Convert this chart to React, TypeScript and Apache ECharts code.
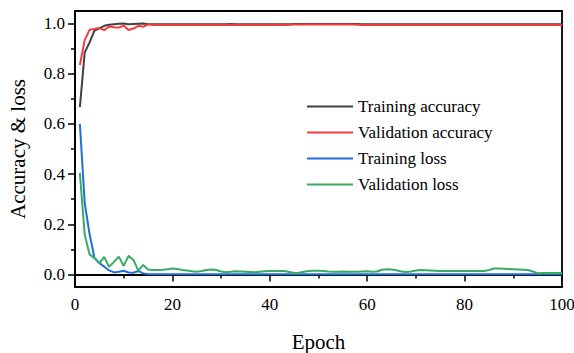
import React, { useEffect, useRef } from "react";
import * as echarts from "echarts";

const epochs: number[] = Array.from({ length: 100 }, (_, i) => i + 1);

const trainAcc: number[] = [
  0.667, 0.885, 0.925, 0.972, 0.981, 0.991, 0.995, 0.997, 0.999, 1.0,
  0.997, 0.998, 0.999, 1.0, 0.997, 0.997, 0.997, 0.997, 0.997, 0.997,
  0.997, 0.997, 0.997, 0.997, 0.997, 0.997, 0.997, 0.997, 0.997, 0.997,
  0.997, 0.998, 0.997, 0.997, 0.997, 0.997, 0.997, 0.997, 0.997, 0.997,
  0.997, 0.997, 0.997, 0.997, 0.998, 0.998, 0.998, 0.998, 0.998, 0.998,
  0.998, 0.998, 0.998, 0.998, 0.998, 0.998, 0.998, 0.998, 0.997, 0.997,
  0.997, 0.997, 0.997, 0.997, 0.997, 0.997, 0.997, 0.997, 0.997, 0.997,
  0.997, 0.997, 0.997, 0.997, 0.997, 0.997, 0.997, 0.997, 0.997, 0.997,
  0.997, 0.997, 0.997, 0.997, 0.997, 0.997, 0.997, 0.997, 0.997, 0.997,
  0.997, 0.997, 0.997, 0.997, 0.997, 0.997, 0.997, 0.997, 0.997, 0.997,
];

const valAcc: number[] = [
  0.835, 0.935, 0.975, 0.978, 0.982, 0.974, 0.988, 0.985, 0.984, 0.992,
  0.974, 0.98, 0.991, 0.987, 0.997, 0.994, 0.994, 0.994, 0.994, 0.994,
  0.994, 0.994, 0.994, 0.994, 0.994, 0.994, 0.994, 0.994, 0.994, 0.994,
  0.994, 0.995, 0.994, 0.994, 0.994, 0.994, 0.994, 0.994, 0.994, 0.994,
  0.994, 0.994, 0.994, 0.995, 0.996, 0.996, 0.996, 0.996, 0.996, 0.996,
  0.996, 0.996, 0.996, 0.996, 0.996, 0.996, 0.996, 0.995, 0.994, 0.994,
  0.994, 0.994, 0.994, 0.994, 0.994, 0.994, 0.994, 0.994, 0.994, 0.994,
  0.994, 0.994, 0.994, 0.994, 0.994, 0.994, 0.994, 0.994, 0.994, 0.994,
  0.994, 0.994, 0.994, 0.994, 0.994, 0.994, 0.994, 0.994, 0.994, 0.994,
  0.994, 0.994, 0.994, 0.994, 0.994, 0.994, 0.994, 0.994, 0.994, 0.994,
];

const trainLoss: number[] = [
  0.6, 0.284, 0.16, 0.066, 0.045, 0.031, 0.016, 0.008, 0.011, 0.015,
  0.008, 0.007, 0.014, 0.004, 0.002, 0.001, 0.001, 0.001, 0.001, 0.001,
  0.001, 0.001, 0.001, 0.001, 0.001, 0.001, 0.001, 0.001, 0.001, 0.001,
  0.001, 0.001, 0.001, 0.001, 0.001, 0.001, 0.001, 0.001, 0.001, 0.001,
  0.001, 0.001, 0.001, 0.001, 0.001, 0.001, 0.001, 0.001, 0.001, 0.001,
  0.001, 0.001, 0.001, 0.001, 0.001, 0.001, 0.001, 0.001, 0.001, 0.001,
  0.001, 0.001, 0.001, 0.001, 0.001, 0.001, 0.001, 0.001, 0.001, 0.001,
  0.001, 0.001, 0.001, 0.001, 0.001, 0.001, 0.001, 0.001, 0.001, 0.001,
  0.001, 0.001, 0.001, 0.001, 0.001, 0.001, 0.001, 0.001, 0.001, 0.001,
  0.001, 0.001, 0.001, 0.001, 0.001, 0.001, 0.001, 0.001, 0.001, 0.001,
];

const valLoss: number[] = [
  0.405, 0.157, 0.08, 0.065, 0.045, 0.07, 0.03, 0.05, 0.071, 0.034,
  0.074, 0.058, 0.015, 0.038, 0.02, 0.018, 0.018, 0.019, 0.021, 0.024,
  0.022, 0.018, 0.016, 0.013, 0.011, 0.014, 0.018, 0.02, 0.018, 0.012,
  0.009, 0.011, 0.013, 0.012, 0.011, 0.01, 0.009, 0.011, 0.013, 0.014,
  0.014, 0.014, 0.014, 0.01, 0.006, 0.007, 0.011, 0.014, 0.015, 0.015,
  0.014, 0.012, 0.011, 0.011, 0.012, 0.011, 0.011, 0.011, 0.012, 0.013,
  0.011, 0.012, 0.019, 0.021, 0.02, 0.017, 0.012, 0.01, 0.012, 0.016,
  0.018, 0.017, 0.016, 0.015, 0.014, 0.014, 0.014, 0.014, 0.014, 0.014,
  0.014, 0.014, 0.014, 0.014, 0.018, 0.024, 0.024, 0.023, 0.022, 0.021,
  0.02, 0.019, 0.018, 0.012, 0.005, 0.006, 0.006, 0.006, 0.006, 0.006,
];

const seriesNames = ["Training accuracy", "Validation accuracy", "Training loss", "Validation loss"];
const seriesColors = ["#404040", "#f23c3c", "#1f6fdb", "#3aab62"];
const seriesValues = [trainAcc, valAcc, trainLoss, valLoss];

const yMajorTicks = [0, 0.2, 0.4, 0.6, 0.8, 1.0];
const yMinorTicks = [0.1, 0.3, 0.5, 0.7, 0.9];

const FONT = "'Liberation Serif', 'Times New Roman', serif";

export default function App() {
  const ref = useRef<HTMLDivElement>(null);
  useEffect(() => {
    if (!ref.current) return;
    const chart = echarts.init(ref.current, null, { renderer: "svg" });
    const axisLine = { show: true, lineStyle: { color: "#000", width: 1.8 } };
    chart.setOption({
      animation: false,
      textStyle: { fontFamily: FONT },
      grid: {
        left: 75,
        right: 12,
        top: 11,
        bottom: 66,
        containLabel: false,
        outerBoundsMode: "none",
        show: true,
        borderColor: "#000",
        borderWidth: 1.8,
        backgroundColor: "transparent",
      },
      legend: {
        orient: "vertical",
        left: 307,
        top: 98,
        padding: 0,
        itemWidth: 46,
        itemHeight: 2,
        itemGap: 9,
        icon: "rect",
        textStyle: { fontFamily: FONT, fontSize: 17, color: "#000", lineHeight: 17 },
        data: seriesNames,
      },
      xAxis: {
        type: "value",
        min: 0,
        max: 100,
        interval: 20,
        name: "Epoch",
        nameLocation: "middle",
        nameGap: 44,
        nameTextStyle: { fontFamily: FONT, fontSize: 21, color: "#000" },
        axisLine,
        axisTick: { show: true, inside: false, length: 7, lineStyle: { color: "#000", width: 1.5 } },
        minorTick: { show: true, splitNumber: 2, length: 4, lineStyle: { color: "#000", width: 1.5 } },
        axisLabel: { fontFamily: FONT, fontSize: 17, color: "#000", margin: 9 },
        splitLine: { show: false },
      },
      yAxis: [
        {
          type: "value",
          position: "left",
          min: -0.05,
          max: 1.05,
          name: "Accuracy & loss",
          nameLocation: "middle",
          nameGap: 47,
          nameTextStyle: { fontFamily: FONT, fontSize: 21, color: "#000" },
          axisLine,
          axisTick: {
            show: true,
            length: 7,
            customValues: yMajorTicks,
            lineStyle: { color: "#000", width: 1.5 },
          },
          axisLabel: {
            fontFamily: FONT,
            fontSize: 17,
            color: "#000",
            margin: 10,
            customValues: yMajorTicks,
            formatter: (v: number) => v.toFixed(1),
          },
          splitLine: { show: false },
        },
        {
          type: "value",
          position: "left",
          offset: 0,
          min: -0.05,
          max: 1.05,
          axisLine: { show: false },
          axisTick: {
            show: true,
            length: 4,
            customValues: yMinorTicks,
            lineStyle: { color: "#000", width: 1.5 },
          },
          axisLabel: { show: false },
          splitLine: { show: false },
        },
      ],
      series: seriesNames.map((name, i) => ({
        name,
        type: "line",
        yAxisIndex: 0,
        data: epochs.map((e, k) => [e, seriesValues[i][k]]),
        showSymbol: false,
        symbol: "none",
        lineStyle: { color: seriesColors[i], width: 2 },
        itemStyle: { color: seriesColors[i] },
      })),
    });
    return () => chart.dispose();
  }, []);
  return (
    <div
      ref={ref}
      style={{ position: "fixed", left: 0, top: 0, width: 574, height: 353, background: "#fff" }}
    />
  );
}
